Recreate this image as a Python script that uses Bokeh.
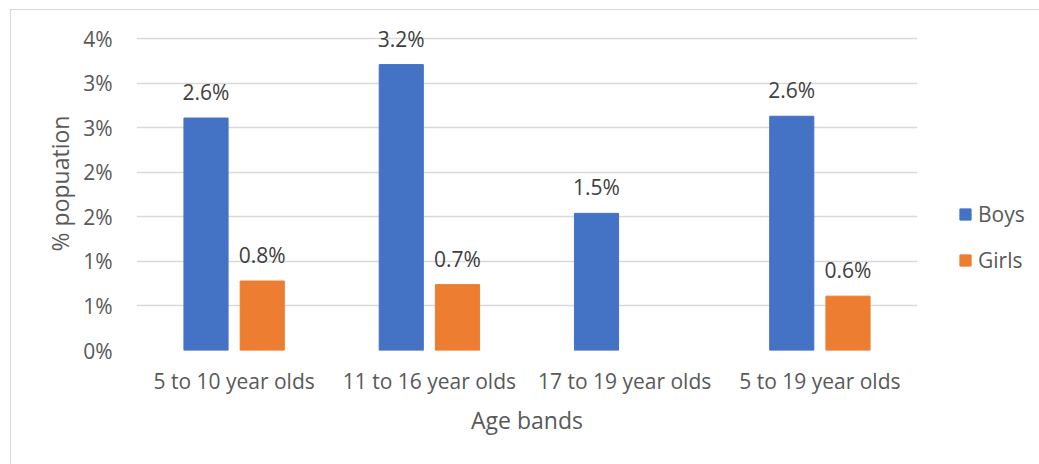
from bokeh.plotting import figure
from bokeh.models import (ColumnDataSource, FactorRange, FixedTicker, CustomJSTickFormatter,
                          Legend, LegendItem)
from bokeh.core.properties import value
from bokeh.transform import dodge
from bokeh.embed import file_html
from bokeh.resources import INLINE

# Share of population by age band (percent)
age_bands = ["5 to 10 year olds", "11 to 16 year olds", "17 to 19 year olds", "5 to 19 year olds"]
boys = [2.61, 3.21, 1.54, 2.63]
girls = [0.78, 0.74, None, 0.61]
y_ticks = [0.0, 0.5, 1.0, 1.5, 2.0, 2.5, 3.0, 3.5]

FONT = "Open Sans"
BLUE = "#4472C4"
ORANGE = "#ED7D31"
GREY_TEXT = "#595959"
DARK_TEXT = "#404040"
GRID = "#d9d9d9"

BAR_W = 0.226
OFFSET = 0.144


def series_source(values):
    rows = [(b, v) for b, v in zip(age_bands, values) if v is not None]
    return ColumnDataSource(dict(
        band=[r[0] for r in rows],
        value=[r[1] for r in rows],
        label=[f"{r[1]:.1f}%" for r in rows],
    ))


boys_src = series_source(boys)
girls_src = series_source(girls)

# the chart sits inside a light frame drawn by the page (left and top edges)
p = figure(x_range=FactorRange(*age_bands), y_range=(0, 3.75),
           frame_width=781, frame_height=334, margin=(9, 0, 0, 10),
           styles={"border-left": f"1px solid {GRID}", "border-top": f"1px solid {GRID}"},
           output_backend="svg", toolbar_location=None,
           min_border_left=125, min_border_right=122, min_border_top=6, min_border_bottom=114)
p.x_range.range_padding = 0
p.outline_line_color = None
p.background_fill_color = "white"
p.border_fill_color = "white"

# grid
p.xgrid.grid_line_color = None
p.ygrid.grid_line_color = GRID
p.ygrid.grid_line_width = 1.3

# y axis
yax = p.yaxis[0]
yax.ticker = FixedTicker(ticks=y_ticks)
yax.formatter = CustomJSTickFormatter(code="return Math.round(tick) + '%';")
yax.axis_line_color = None
yax.major_tick_line_color = None
yax.minor_tick_line_color = None
yax.major_label_standoff = 18
yax.major_label_text_font = FONT
yax.major_label_text_font_size = "21px"
yax.major_label_text_color = GREY_TEXT
yax.axis_label = "% popuation"
yax.axis_label_text_font = FONT
yax.axis_label_text_font_size = "23px"
yax.axis_label_text_font_style = "normal"
yax.axis_label_text_color = GREY_TEXT
yax.axis_label_standoff = 4

# x axis
xax = p.xaxis[0]
xax.axis_line_color = None
xax.major_tick_line_color = None
xax.minor_tick_line_color = None
xax.major_label_standoff = 10
xax.major_label_text_font = FONT
xax.major_label_text_font_size = "21px"
xax.major_label_text_color = GREY_TEXT
xax.axis_label = "Age bands"
xax.axis_label_text_font = FONT
xax.axis_label_text_font_size = "23px"
xax.axis_label_text_font_style = "normal"
xax.axis_label_text_color = GREY_TEXT
xax.axis_label_standoff = 6

# bars
rb = p.vbar(x=dodge("band", -OFFSET, range=p.x_range), top="value", width=BAR_W,
            source=boys_src, fill_color=BLUE, line_color=BLUE)
rg = p.vbar(x=dodge("band", OFFSET, range=p.x_range), top="value", width=BAR_W,
            source=girls_src, fill_color=ORANGE, line_color=ORANGE)

# value labels above each bar
for src, off in ((boys_src, -OFFSET), (girls_src, OFFSET)):
    p.text(x=dodge("band", off, range=p.x_range), y="value", text="label", source=src,
           text_align="center", text_baseline="alphabetic", y_offset=-26,
           text_font=value(FONT), text_font_size="21px", text_color=DARK_TEXT)

legend = Legend(items=[LegendItem(label="Boys", renderers=[rb]),
                       LegendItem(label="Girls", renderers=[rg])],
                location=(41, 76), orientation="vertical",
                border_line_color=None, background_fill_alpha=0,
                glyph_width=14, glyph_height=14, label_standoff=6,
                spacing=18, padding=0, margin=0,
                label_text_font=FONT, label_text_font_size="21px",
                label_text_color=GREY_TEXT)
p.add_layout(legend, "right")

open("out.html", "w").write(file_html(p, INLINE))
